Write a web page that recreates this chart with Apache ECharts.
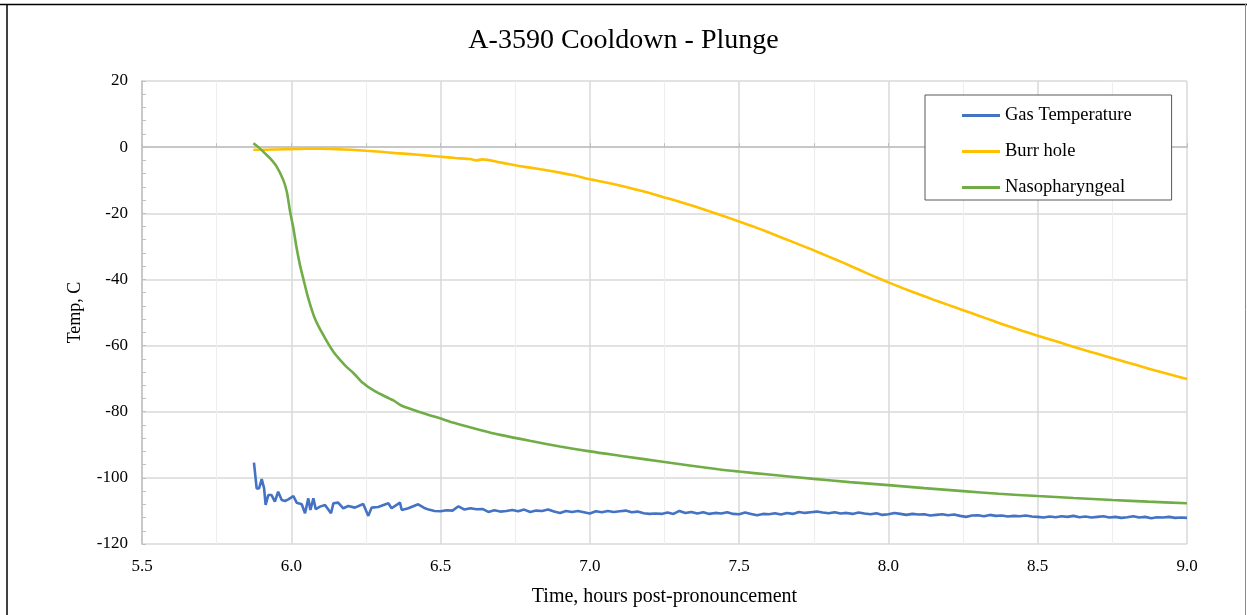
<!DOCTYPE html>
<html>
<head>
<meta charset="utf-8">
<script src="https://cdn.jsdelivr.net/npm/echarts@6/dist/echarts.min.js"></script>
<style>
html,body{margin:0;padding:0;background:#fff;}
#chart{width:1247px;height:615px;}
</style>
</head>
<body>
<div id="chart"></div>
<script>
const title = 'A-3590 Cooldown - Plunge';
const xName = 'Time, hours post-pronouncement';
const yName = 'Temp, C';
const seriesNames = ['Gas Temperature', 'Burr hole', 'Nasopharyngeal'];
const colors = ['#4472C4', '#FFC000', '#70AD47'];

const gasTime = [5.875,5.884,5.892,5.901,5.909,5.914,5.923,5.934,5.945,5.956,5.968,5.979,5.990,6.007,6.018,6.035,6.046,6.057,6.064,6.074,6.082,6.096,6.113,6.133,6.141,6.157,6.174,6.191,6.213,6.241,6.258,6.269,6.291,6.325,6.336,6.364,6.370,6.392,6.425,6.448,
6.46,6.48,6.50,6.52,6.54,6.56,6.58,6.60,6.62,6.64,6.66,6.68,6.70,6.72,6.74,6.76,6.78,6.80,6.82,6.84,6.86,6.88,6.90,6.92,6.94,6.96,6.98,7.00,7.02,7.04,7.06,7.08,7.10,7.12,7.14,7.16,7.18,7.20,7.22,7.24,7.26,7.28,7.30,7.32,7.34,7.36,7.38,7.40,7.42,7.44,7.46,7.48,7.50,7.52,7.54,7.56,7.58,7.60,7.62,7.64,7.66,7.68,7.70,7.72,7.74,7.76,7.78,7.80,7.82,7.84,7.86,7.88,7.90,7.92,7.94,7.96,7.98,8.00,8.02,8.04,8.06,8.08,8.10,8.12,8.14,8.16,8.18,8.20,8.22,8.24,8.26,8.28,8.30,8.32,8.34,8.36,8.38,8.40,8.42,8.44,8.46,8.48,8.50,8.52,8.54,8.56,8.58,8.60,8.62,8.64,8.66,8.68,8.70,8.72,8.74,8.76,8.78,8.80,8.82,8.84,8.86,8.88,8.90,8.92,8.94,8.96,8.98,9.00];
const gasTemp = [-95.4,-103.2,-103.2,-100.4,-103.2,-108.2,-105.2,-105.2,-107.2,-104.2,-106.7,-107.0,-106.5,-105.5,-107.5,-108.0,-110.7,-106.2,-109.7,-106.2,-109.5,-108.7,-108.2,-110.7,-107.7,-107.5,-109.2,-108.5,-109.0,-107.9,-111.5,-109.0,-108.8,-107.7,-109.2,-107.5,-109.7,-109.2,-108.0,-109.2,
-109.6,-110.0,-110.1,-109.8,-109.9,-108.6,-109.6,-109.2,-109.5,-109.4,-110.3,-109.8,-110.2,-110.0,-109.7,-110.1,-109.6,-110.3,-109.9,-110.0,-109.6,-110.2,-110.6,-110.0,-110.3,-110.0,-110.4,-110.8,-110.1,-110.4,-110.0,-110.3,-110.1,-109.9,-110.4,-110.2,-110.7,-110.9,-110.8,-110.9,-110.5,-110.9,-110.0,-110.6,-110.3,-110.8,-110.4,-110.9,-110.6,-110.8,-110.4,-110.9,-111.0,-110.5,-110.9,-111.3,-110.9,-111.0,-110.7,-111.1,-110.6,-110.9,-110.3,-110.6,-110.4,-110.2,-110.5,-110.7,-110.4,-110.8,-110.6,-110.9,-110.5,-110.8,-111.0,-110.7,-111.2,-111.0,-110.6,-110.9,-111.2,-110.9,-111.1,-111.0,-111.4,-111.2,-111.0,-111.3,-111.1,-111.5,-111.8,-111.4,-111.3,-111.6,-111.2,-111.5,-111.4,-111.7,-111.5,-111.6,-111.4,-111.7,-111.8,-112.0,-111.7,-111.9,-111.6,-111.8,-111.5,-111.9,-111.7,-112.0,-111.8,-111.6,-112.0,-111.8,-112.1,-111.9,-111.6,-112.0,-111.8,-112.2,-111.9,-112.0,-111.8,-112.1,-112.0,-112.1];

const burrTime = [5.873,5.90,5.95,6.00,6.05,6.10,6.15,6.20,6.25,6.30,6.35,6.40,6.45,6.50,6.55,6.60,6.62,6.64,6.70,6.75,6.80,6.85,6.90,6.95,7.00,7.05,7.10,7.15,7.20,7.25,7.30,7.35,7.40,7.45,7.50,7.55,7.60,7.65,7.70,7.75,7.80,7.85,7.90,7.95,8.00,8.05,8.10,8.15,8.20,8.25,8.30,8.35,8.40,8.45,8.50,8.55,8.60,8.65,8.70,8.75,8.80,8.85,8.90,8.95,9.00];
const burrTemp = [-0.8,-0.8,-0.7,-0.6,-0.5,-0.5,-0.6,-0.8,-1.1,-1.4,-1.8,-2.1,-2.5,-2.9,-3.3,-3.6,-4.0,-3.7,-4.6,-5.5,-6.2,-6.9,-7.7,-8.6,-9.7,-10.6,-11.6,-12.7,-13.9,-15.2,-16.5,-17.9,-19.4,-20.9,-22.5,-24.1,-25.8,-27.6,-29.4,-31.2,-33.1,-35.0,-37.0,-39.0,-40.9,-42.7,-44.4,-46.1,-47.7,-49.3,-50.9,-52.5,-54.1,-55.6,-57.0,-58.4,-59.8,-61.2,-62.5,-63.8,-65.1,-66.4,-67.7,-68.9,-70.1];

const nasoTime = [5.873,5.89,5.912,5.93,5.951,5.973,5.985,5.996,6.007,6.018,6.029,6.040,6.057,6.079,6.107,6.141,6.180,6.208,6.236,6.280,6.342,6.370,6.448,6.498,6.55,6.632,6.70,6.799,6.90,7.00,7.10,7.25,7.43,7.50,7.60,7.75,7.87,8.00,8.12,8.25,8.37,8.50,8.62,8.75,8.87,9.00];
const nasoTemp = [1.2,0.0,-1.9,-3.5,-5.9,-9.9,-13.5,-19.5,-24.5,-30.6,-35.6,-39.7,-45.7,-51.8,-56.8,-61.9,-66.0,-68.3,-71.0,-73.8,-76.6,-78.2,-80.6,-82.0,-83.5,-85.5,-87.0,-88.8,-90.5,-92.0,-93.3,-95.2,-97.4,-98.1,-99.0,-100.3,-101.3,-102.2,-103.1,-104.0,-104.8,-105.5,-106.1,-106.7,-107.2,-107.7];

const xMin = 5.5, xMax = 9.0, xInterval = 0.5;
const yMin = -120, yMax = 20, yInterval = 20;

function pairs(t, v) { return t.map((x, i) => [x, v[i]]); }
const font = 'Liberation Serif';

const chart = echarts.init(document.getElementById('chart'), null, {renderer: 'canvas'});
chart.setOption({
  animation: false,
  backgroundColor: '#fff',
  title: {
    text: title, left: 'center', top: 22,
    textStyle: {fontFamily: font, fontSize: 28, fontWeight: 'normal', color: '#000'}
  },
  legend: {
    data: seriesNames, orient: 'vertical', left: 925, top: 95,
    icon: 'rect', itemWidth: 38, itemHeight: 3, itemGap: 17,
    padding: [11, 40, 3, 37],
    borderColor: '#595959', borderWidth: 1, backgroundColor: '#fff',
    textStyle: {fontFamily: font, fontSize: 18.5, color: '#000'}
  },
  grid: {left: 142, right: 60, top: 81, bottom: 71},
  xAxis: {
    type: 'value', min: xMin, max: xMax, interval: xInterval,
    name: xName, nameLocation: 'middle', nameGap: 43,
    nameTextStyle: {fontFamily: font, fontSize: 20, color: '#000'},
    axisLine: {show: true, lineStyle: {color: '#bfbfbf', width: 1.5}},
    axisTick: {show: true, inside: true, length: 4, lineStyle: {color: '#bfbfbf'}},
    minorTick: {show: true, splitNumber: 2, length: 4, lineStyle: {color: '#bfbfbf'}},
    axisLabel: {fontFamily: font, fontSize: 17, color: '#000', margin: 14, formatter: v => v.toFixed(1)},
    splitLine: {show: true, lineStyle: {color: '#d9d9d9', width: 1.5}},
    minorSplitLine: {show: true, lineStyle: {color: '#eeeeee', width: 1.2}}
  },
  yAxis: {
    type: 'value', min: yMin, max: yMax, interval: yInterval,
    name: yName, nameLocation: 'middle', nameGap: 58, nameRotate: 90,
    nameTextStyle: {fontFamily: font, fontSize: 18, color: '#000'},
    axisLine: {show: true, lineStyle: {color: '#bfbfbf', width: 1.5}},
    axisTick: {show: true, inside: true, length: 4, lineStyle: {color: '#bfbfbf'}},
    minorTick: {show: true, splitNumber: 5, length: 4, lineStyle: {color: '#bfbfbf'}},
    axisLabel: {fontFamily: font, fontSize: 17, color: '#000', margin: 14},
    splitLine: {show: true, lineStyle: {color: '#d9d9d9', width: 1.5}}
  },
  graphic: [
    {type: 'line', shape: {x1: 0, y1: 4.5, x2: 1247, y2: 4.5}, style: {stroke: '#000', lineWidth: 1.5}, silent: true},
    {type: 'line', shape: {x1: 7, y1: 4, x2: 7, y2: 615}, style: {stroke: '#000', lineWidth: 1.5}, silent: true},
    {type: 'line', shape: {x1: 1245.5, y1: 4, x2: 1245.5, y2: 615}, style: {stroke: '#888', lineWidth: 1}, silent: true}
  ],
  series: [
    {name: seriesNames[0], type: 'line', data: pairs(gasTime, gasTemp), showSymbol: false, symbol: 'none', color: colors[0], lineStyle: {width: 2.6, color: colors[0]}, z: 3},
    {name: seriesNames[1], type: 'line', data: pairs(burrTime, burrTemp), showSymbol: false, symbol: 'none', smooth: 0.2, color: colors[1], lineStyle: {width: 2.6, color: colors[1]}, z: 2},
    {name: seriesNames[2], type: 'line', data: pairs(nasoTime, nasoTemp), showSymbol: false, symbol: 'none', smooth: 0.3, color: colors[2], lineStyle: {width: 2.6, color: colors[2]}, z: 2}
  ]
});
</script>
</body>
</html>
